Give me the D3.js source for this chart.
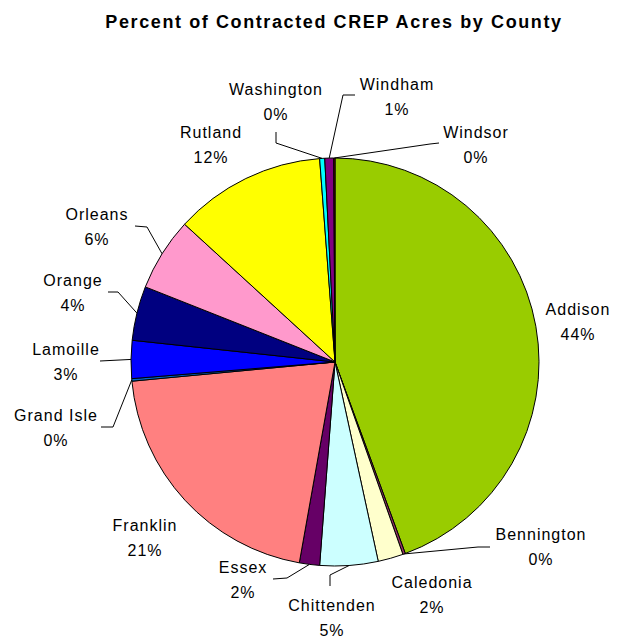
<!DOCTYPE html>
<html>
<head>
<meta charset="utf-8">
<script src="https://cdn.jsdelivr.net/npm/d3@7"></script>
<style>
  html, body { margin: 0; padding: 0; background: #ffffff; }
  svg { display: block; }
  text { font-family: "Liberation Sans", Arial, sans-serif; fill: #000; }
</style>
</head>
<body>
<script>
// County shares of contracted CREP acres (percent)
const counties = ["Addison", "Bennington", "Caledonia", "Chittenden", "Essex", "Franklin",
  "Grand Isle", "Lamoille", "Orange", "Orleans", "Rutland", "Washington", "Windham", "Windsor"];
const shares = [44.4, 0.2, 2.0, 4.6, 1.6, 20.7, 0.2, 3.0, 4.3, 5.8, 12.0, 0.4, 0.7, 0.1];
const sliceColors = ["#99CC00", "#993366", "#FFFFCC", "#CCFFFF", "#660066", "#FF8080",
  "#0066CC", "#0000FF", "#000080", "#FF99CC", "#FFFF00", "#00FFFF", "#800080", "#800000"];
const title = "Percent of Contracted CREP Acres by County";

// Label placement, as offsets from the pie centre: text centre x, first baseline y,
// and optional leader-line bend points (the line then runs to the slice edge).
const labelLayout = {
  "Addison":    { x: 243, y: -47 },
  "Bennington": { x: 206, y: 178, leader: [[155, 185], [143, 185]] },
  "Caledonia":  { x: 97,  y: 226 },
  "Chittenden": { x: -3,  y: 249, leader: [[-5, 224], [-5, 213], [1, 210]] },
  "Essex":      { x: -92, y: 211, leader: [[-62, 217], [-48, 216]] },
  "Franklin":   { x: -190, y: 169 },
  "Grand Isle": { x: -279, y: 59, leader: [[-234, 65], [-222, 65]] },
  "Lamoille":   { x: -269, y: -7, leader: [[-235, -1]] },
  "Orange":     { x: -262, y: -76, leader: [[-227, -70], [-217, -70]] },
  "Orleans":    { x: -238, y: -142, leader: [[-200, -136], [-188, -135]] },
  "Rutland":    { x: -124, y: -224 },
  "Washington": { x: -59, y: -267, leader: [[-59, -230], [-59, -219]] },
  "Windham":    { x: 62,  y: -272, leader: [[20, -267], [8, -267]] },
  "Windsor":    { x: 141, y: -224, leader: [[104, -219], [95, -218]] }
};

const width = 618, height = 638;
const cx = 335, cy = 362, radius = 204;

const svg = d3.select("body").append("svg")
  .attr("width", width)
  .attr("height", height);

svg.append("text")
  .attr("x", 334)
  .attr("y", 28)
  .attr("text-anchor", "middle")
  .style("font-size", "18px")
  .style("font-weight", "bold")
  .style("letter-spacing", "1.6px")
  .text(title);

const data = counties.map((c, i) => ({ county: c, value: shares[i], color: sliceColors[i] }));
const total = d3.sum(shares);

const pie = d3.pie().sort(null).value(d => d.value);
const arcs = pie(data);
const arc = d3.arc().innerRadius(0).outerRadius(radius);

const g = svg.append("g").attr("transform", `translate(${cx},${cy})`);

g.selectAll("path.slice")
  .data(arcs)
  .join("path")
  .attr("class", "slice")
  .attr("d", arc)
  .attr("fill", d => d.data.color)
  .attr("stroke", "#000")
  .attr("stroke-width", 1)
  .attr("stroke-linejoin", "round");

// point on the outer edge at the middle of a slice
function edgePoint(d) {
  const a = (d.startAngle + d.endAngle) / 2;
  return [radius * Math.sin(a), -radius * Math.cos(a)];
}

const line = d3.line();

g.selectAll("path.leader")
  .data(arcs.filter(d => labelLayout[d.data.county].leader))
  .join("path")
  .attr("class", "leader")
  .attr("fill", "none")
  .attr("stroke", "#000")
  .attr("stroke-width", 1)
  .attr("d", d => line(labelLayout[d.data.county].leader.concat([edgePoint(d)])));

const labels = g.selectAll("text.label")
  .data(arcs)
  .join("text")
  .attr("class", "label")
  .attr("text-anchor", "middle")
  .style("font-size", "16px")
  .style("letter-spacing", "1px");

labels.append("tspan")
  .attr("x", d => labelLayout[d.data.county].x)
  .attr("y", d => labelLayout[d.data.county].y)
  .text(d => d.data.county);

labels.append("tspan")
  .attr("x", d => labelLayout[d.data.county].x)
  .attr("y", d => labelLayout[d.data.county].y + 25)
  .text(d => Math.round(d.data.value / total * 100) + "%");
</script>
</body>
</html>
